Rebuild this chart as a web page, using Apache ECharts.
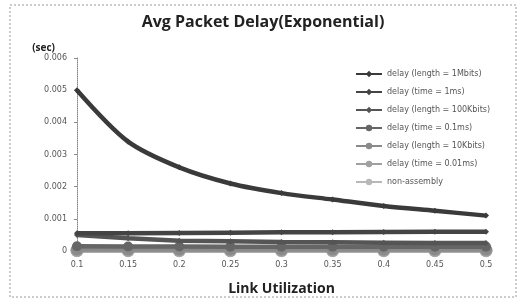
<!DOCTYPE html>
<html>
<head>
<meta charset="utf-8">
<script src="https://cdn.jsdelivr.net/npm/echarts@6/dist/echarts.min.js"></script>
<style>
  html, body { margin: 0; padding: 0; background: #fff; }
  #chart { width: 526px; height: 301px; }
</style>
</head>
<body>
<div id="chart"></div>
<script>
// link utilization categories
var categories = ['0.1', '0.15', '0.2', '0.25', '0.3', '0.35', '0.4', '0.45', '0.5'];

// delay values (sec)
var len1M   = [0.0050, 0.0034, 0.0026, 0.0021, 0.0018, 0.0016, 0.0014, 0.00125, 0.0011];
var time1ms = [0.00055, 0.00055, 0.00056, 0.00057, 0.00058, 0.00058, 0.00059, 0.0006, 0.0006];
var len100K = [0.00050, 0.00040, 0.00032, 0.00030, 0.00028, 0.00027, 0.00026, 0.00025, 0.00025];
var time01  = [0.00015, 0.00014, 0.00014, 0.00013, 0.00013, 0.00013, 0.00013, 0.00013, 0.00013];
var len10K  = [0.00005, 0.00005, 0.00005, 0.00005, 0.00005, 0.00005, 0.00005, 0.00005, 0.00005];
var time001 = [0.00002, 0.00002, 0.00002, 0.00002, 0.00002, 0.00002, 0.00002, 0.00002, 0.00002];
var nonAsm  = [0.00001, 0.00001, 0.00001, 0.00001, 0.00001, 0.00001, 0.00001, 0.00001, 0.00001];

var names = ['delay (length = 1Mbits)', 'delay (time = 1ms)', 'delay (length = 100Kbits)',
             'delay (time = 0.1ms)', 'delay (length = 10Kbits)', 'delay (time = 0.01ms)', 'non-assembly'];
var values = [len1M, time1ms, len100K, time01, len10K, time001, nonAsm];
var colors = ['#3a3a3a', '#444444', '#555555', '#666666', '#8a8a8a', '#a0a0a0', '#b8b8b8'];
var symbols = ['diamond', 'diamond', 'diamond', 'circle', 'circle', 'circle', 'circle'];
var sizes = [6, 6, 6, 10, 12, 13, 13];

var chart = echarts.init(document.getElementById('chart'));

var series = names.map(function (n, i) {
    return {
        name: n,
        type: 'line',
        data: values[i],
        smooth: i === 0 ? 0.3 : false,
        symbol: symbols[i],
        symbolSize: sizes[i],
        lineStyle: { width: 4.5, color: colors[i] },
        itemStyle: { color: colors[i] },
        z: 10 - i
    };
});

chart.setOption({
    animation: false,
    title: {
        text: 'Avg Packet Delay(Exponential)',
        left: 'center',
        top: 9,
        textStyle: { fontFamily: 'Open Sans', fontWeight: 'bold', fontSize: 16, color: '#222' }
    },
    legend: {
        orient: 'vertical',
        left: 350,
        top: 65,
        itemWidth: 26,
        itemHeight: 8,
        itemGap: 10,
        textStyle: { fontFamily: 'DejaVu Sans', fontSize: 8, color: '#555' },
        data: names
    },
    grid: { left: 77, right: 40, top: 58, bottom: 50 },
    xAxis: {
        type: 'category',
        data: categories,
        boundaryGap: false,
        name: 'Link Utilization',
        nameLocation: 'middle',
        nameGap: 31,
        nameTextStyle: { fontFamily: 'Open Sans', fontWeight: 'bold', fontSize: 14, color: '#222' },
        axisLine: { lineStyle: { color: '#999' } },
        axisTick: { show: false },
        axisLabel: { fontFamily: 'DejaVu Sans', fontSize: 8, color: '#555', margin: 10 }
    },
    yAxis: {
        type: 'value',
        min: 0,
        max: 0.006,
        interval: 0.001,
        name: '(sec)',
        nameGap: 5,
        nameTextStyle: { fontFamily: 'Open Sans', fontWeight: 'bold', fontSize: 10, color: '#222', align: 'right', padding: [0, 22, 0, 0] },
        axisLine: { show: true, lineStyle: { color: '#888', type: 'dotted' } },
        axisTick: { show: true, length: 3, lineStyle: { color: '#888' } },
        splitLine: { show: false },
        axisLabel: { fontFamily: 'DejaVu Sans', fontSize: 8, color: '#555', margin: 10 }
    },
    graphic: [{
        type: 'rect',
        shape: { x: 10, y: 5, width: 506, height: 292 },
        style: { fill: 'none', stroke: '#999', lineWidth: 1, lineDash: [2, 2] },
        silent: true
    }],
    series: series
});
</script>
</body>
</html>
